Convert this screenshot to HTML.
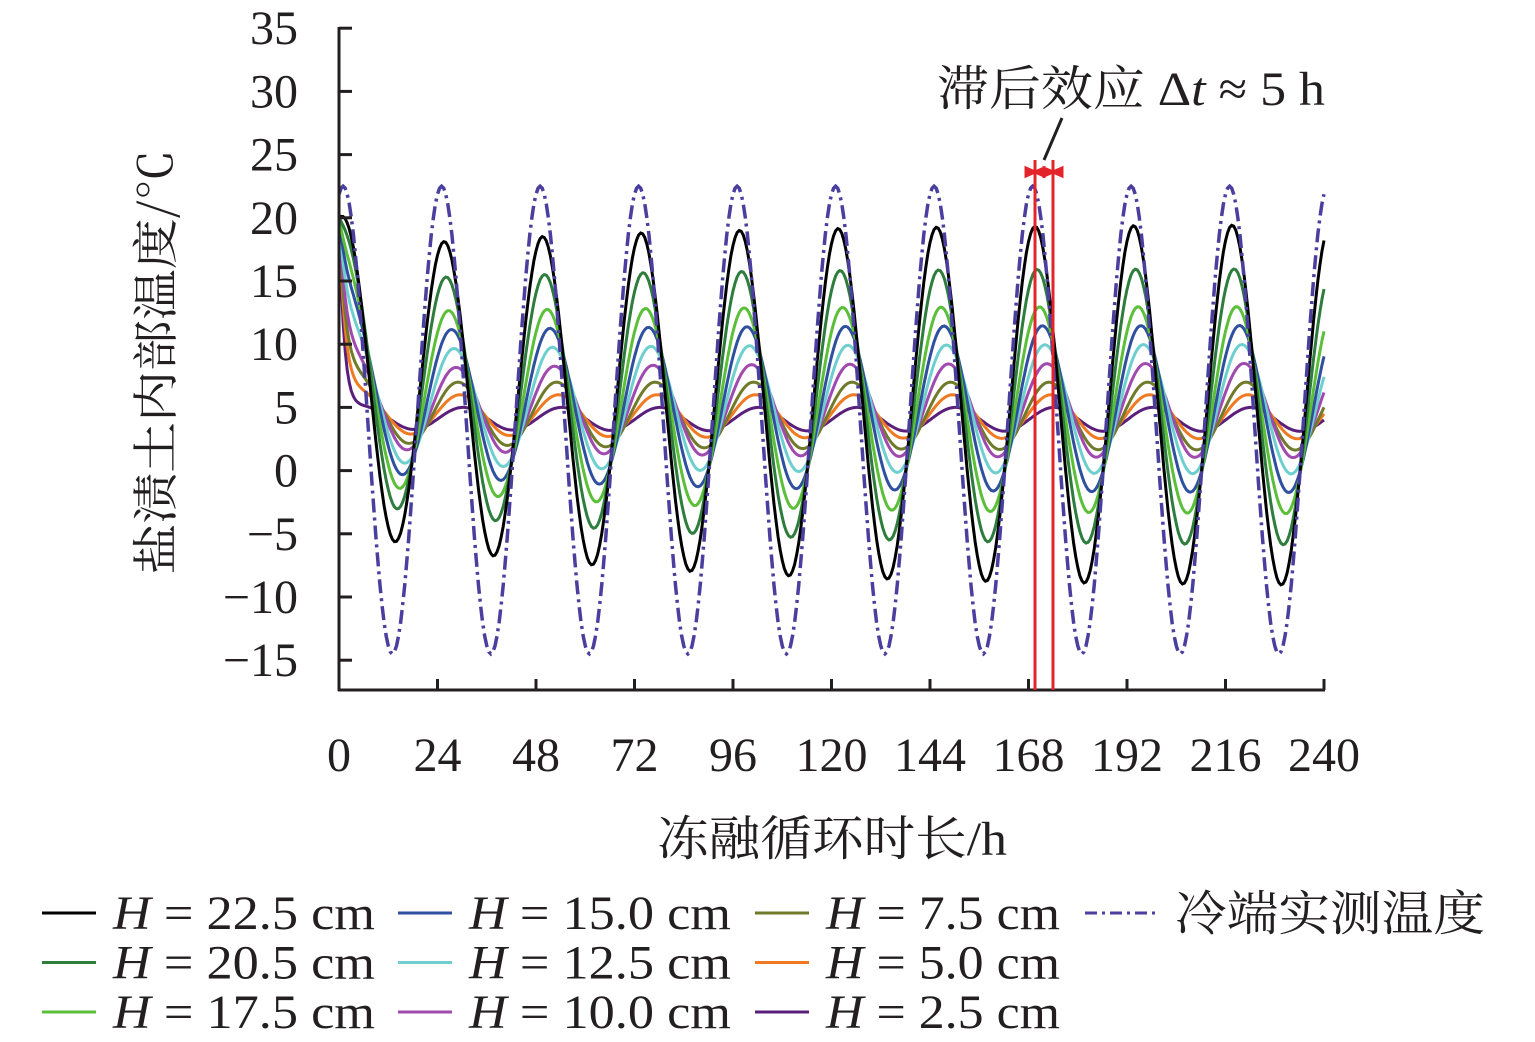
<!DOCTYPE html>
<html><head><meta charset="utf-8"><style>
html,body{margin:0;padding:0;background:#fff;}
svg{display:block;}
text{font-family:"Liberation Serif","Noto Serif CJK SC",serif;fill:#231f20;}
</style></head><body>
<svg id="s" width="1535" height="1042" viewBox="0 0 1535 1042" xmlns="http://www.w3.org/2000/svg">
<g id="plot"></g>
<g stroke="#231f20" stroke-width="3" fill="none">
<line x1="339" y1="27" x2="339" y2="691"/>
<line x1="338" y1="690" x2="1325" y2="690"/>
</g>
<g id="ticks" stroke="#231f20" stroke-width="3"></g>
<g font-size="48" text-anchor="end" id="ylab"></g>
<g font-size="48" text-anchor="middle" id="xlab"></g>
<text transform="translate(172,362) rotate(-90)" font-size="46" text-anchor="middle" textLength="425" lengthAdjust="spacingAndGlyphs" style="font-family:'Noto Serif CJK SC',serif">盐渍土内部温度/℃</text>
<text x="657" y="855" font-size="48" textLength="350" lengthAdjust="spacingAndGlyphs"><tspan style="font-family:'Noto Serif CJK SC',serif">冻融循环时长</tspan>/h</text>
<text x="937" y="105" font-size="48" textLength="388" lengthAdjust="spacingAndGlyphs"><tspan style="font-family:'Noto Serif CJK SC',serif">滞后效应</tspan> Δ<tspan font-style="italic">t</tspan> ≈ 5 h</text>
<line x1="1062" y1="118" x2="1044" y2="160" stroke="#231f20" stroke-width="3"/>
<g stroke="#e3242b" stroke-width="3" fill="#e3242b">
<line x1="1035" y1="160" x2="1035" y2="690"/>
<line x1="1053" y1="160" x2="1053" y2="690"/>
<line x1="1027" y1="172" x2="1061" y2="172"/>
<path d="M1035 172 l9 -4 v8z M1053 172 l-9 -4 v8z M1035 172 l-9 -4 v8z M1053 172 l9 -4 v8z"/>
</g>
<g font-size="48" id="leg"></g>
</svg>
<script>
var NS="http://www.w3.org/2000/svg";
function el(p,n,a,t){var e=document.createElementNS(NS,n);for(var k in a)e.setAttribute(k,a[k]);if(t!=null)e.textContent=t;document.getElementById(p).appendChild(e);return e;}
function X(t){return 339+t*(1324-339)/240;}
function Y(v){return 470.6-v*12.64;}
for(var v=-15;v<=35;v+=5){el("ticks","line",{x1:339,y1:Y(v),x2:352,y2:Y(v)});el("ylab","text",{x:298,y:Y(v)+16},v<0?"−"+(-v):""+v);}
for(var t=0;t<=240;t+=24){el("ticks","line",{x1:X(t),y1:690,x2:X(t),y2:679});el("xlab","text",{x:X(t),y:771},""+t);}
var S=[
["#000000",17.5,-5,19.5,-9.2,0.6,4],
["#2e7d3c",15,-2.5,16,-6,1.1,3.5],
["#5bbf3a",12.5,-1,13,-3.5,1.7,3],
["#2f4f9f",11,0,11.5,-1.8,2.4,2.6],
["#6fcfcf",9.5,0.8,10,-0.3,3,2.3],
["#a04aaf",8,1.8,8.5,1,3.5,2],
["#6f7a2a",7,2.3,7,1.6,4,1.8],
["#ef7a22",6,3,6,2.5,4.5,1.6],
["#5a1f7a",5,3.3,5,3.1,5.2,1.3]];
function pw(lag,t){var x=2*Math.PI*(t+5-lag)/24;return Math.sin(x);}
S.slice().reverse().forEach(function(s){
 var pts=[];var p0=null;
 for(var t=0;t<=240;t+=0.5){
  var r=1-Math.exp(-t/70);
  var mx=s[1]+(s[3]-s[1])*r,mn=s[2]+(s[4]-s[2])*r;
  var m=(mx+mn)/2,a=(mx-mn)/2;
  var v=m+a*pw(s[5],t);
  if(t==0)p0=v;
  v+=(20-p0)*Math.exp(-t/s[6]);
  pts.push(X(t).toFixed(1)+","+Y(v).toFixed(1));
 }
 el("plot","polyline",{points:pts.join(" "),fill:"none",stroke:s[0],"stroke-width":3});
});
var pts=[];for(var t=0;t<=240;t+=0.5){var v=4+18.5*Math.sin(2*Math.PI*(t+5)/24);pts.push(X(t).toFixed(1)+","+Y(v).toFixed(1));}
el("plot","polyline",{points:pts.join(" "),fill:"none",stroke:"#4a3f9f","stroke-width":3.5,"stroke-dasharray":"14 5 3 5"});
var L=[["#000000","22.5"],["#2e7d3c","20.5"],["#5bbf3a","17.5"],["#2f4f9f","15.0"],["#6fcfcf","12.5"],["#a04aaf","10.0"],["#6f7a2a","7.5"],["#ef7a22","5.0"],["#5a1f7a","2.5"]];
var cx=[42,398,755];
L.forEach(function(l,i){var c=Math.floor(i/3),r=i%3;var y=913+r*49.5;
 el("leg","line",{x1:cx[c],y1:y,x2:cx[c]+54,y2:y,stroke:l[0],"stroke-width":3});
 var tx=el("leg","text",{x:cx[c]+71,y:y+16,textLength:(c==2?234:262),lengthAdjust:"spacingAndGlyphs"});
 var a=document.createElementNS(NS,"tspan");a.setAttribute("font-style","italic");a.textContent="H";tx.appendChild(a);
 tx.appendChild(document.createTextNode(" = "+l[1]+" cm"));
});
el("leg","line",{x1:1085,y1:913,x2:1157,y2:913,stroke:"#4a3f9f","stroke-width":3,"stroke-dasharray":"12 5 3 5"});
el("leg","text",{x:1175,y:930,textLength:310,lengthAdjust:"spacingAndGlyphs",style:"font-family:'Noto Serif CJK SC',serif"},"冷端实测温度");
</script>
</body></html>
